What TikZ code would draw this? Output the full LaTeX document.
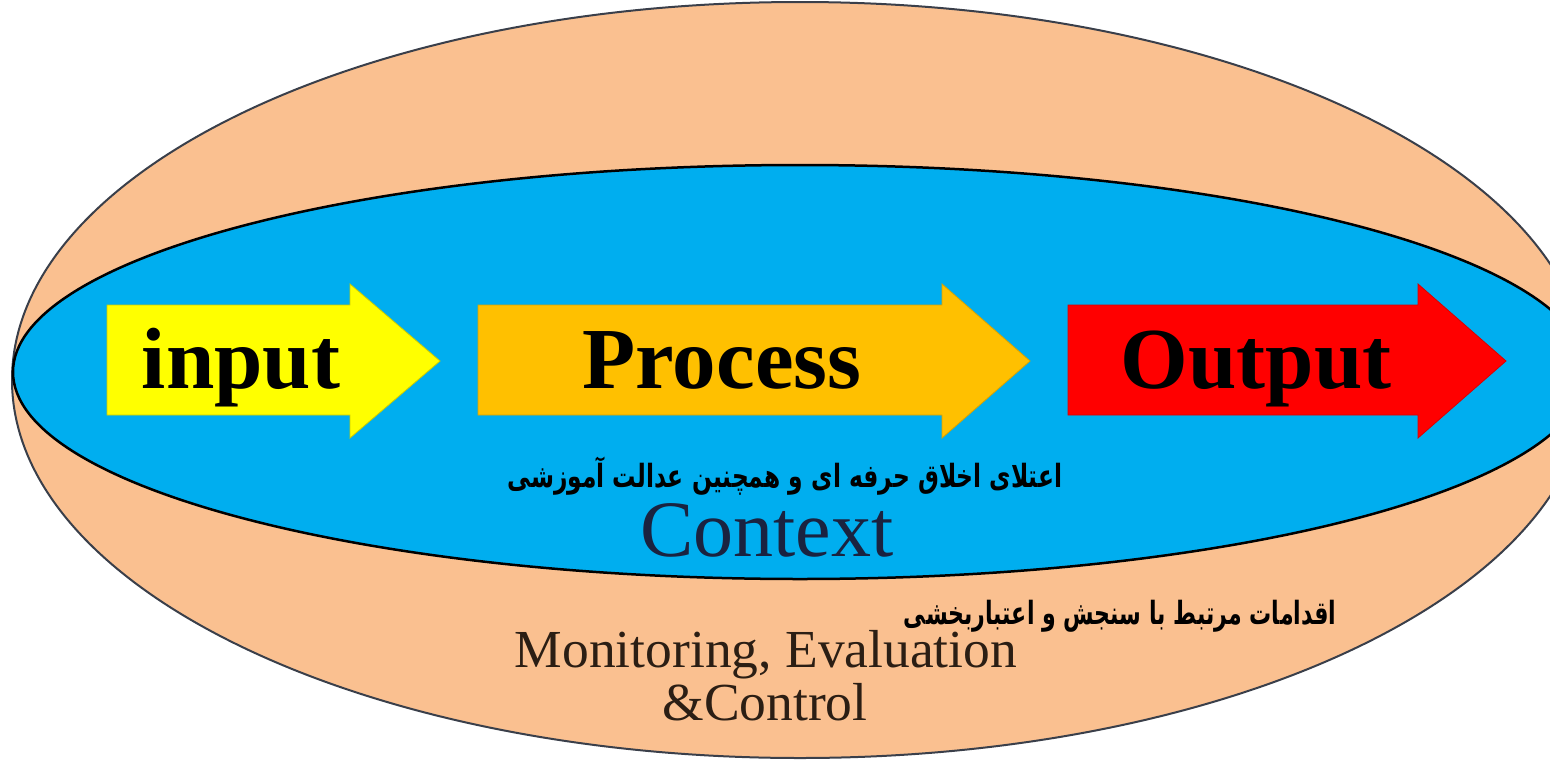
\documentclass[tikz,border=0pt]{standalone}
\usepackage{fontspec}
\setmainfont{Liberation Serif}
\newfontfamily\farsiwide[Script=Arabic, FakeStretch=0.73]{DejaVu Sans}
\newfontfamily\farsinarrow[Script=Arabic, FakeStretch=0.69]{DejaVu Sans}
\TeXXeTstate=1

\definecolor{peach}{HTML}{FAC090}
\definecolor{skyblue}{HTML}{00AEEF}
\definecolor{inyellow}{HTML}{FFFF00}
\definecolor{procamber}{HTML}{FFC000}
\definecolor{outred}{HTML}{FF0000}
\definecolor{ctxnavy}{HTML}{1A2340}
\definecolor{monbrown}{HTML}{2B1E14}
\definecolor{rimgrey}{HTML}{3A3F4A}

\tikzset{
  outerring/.style={fill=peach, draw=rimgrey, line width=2pt},
  innerring/.style={fill=skyblue, draw=black, line width=2.5pt},
  flowarrow/.style={line width=0.8pt, line join=miter},
  flowlabel/.style={anchor=base, inner sep=0pt, font=\fontsize{87}{90}\selectfont\bfseries},
  farsilabel/.style={anchor=base, inner sep=0pt},
  seriflabel/.style={anchor=base, inner sep=0pt},
}

\begin{document}
\begin{tikzpicture}[x=1pt, y=-1pt]
  \useasboundingbox (0,0) rectangle (1550,761);
  \clip (0,0) rectangle (1550,761);

  % monitoring ring and context ring
  \draw[outerring] (800,380) ellipse [x radius=788, y radius=378];
  \draw[innerring] (800,372) ellipse [x radius=787, y radius=207];

  % flow arrows
  \draw[flowarrow, fill=inyellow, draw=inyellow!80!black]
    (107,305) -- (350,305) -- (350,284) -- (440,361) -- (350,438) -- (350,415) -- (107,415) -- cycle;
  \draw[flowarrow, fill=procamber, draw=procamber!85!black]
    (478,305) -- (942,305) -- (942,284) -- (1030,361) -- (942,438) -- (942,415) -- (478,415) -- cycle;
  \draw[flowarrow, fill=outred, draw=outred!85!black]
    (1068,305) -- (1418,305) -- (1418,284) -- (1506,361) -- (1418,438) -- (1418,415) -- (1068,415) -- cycle;

  \node[flowlabel] (input)   at (241,388)  {input};
  \node[flowlabel] (process) at (722,388)  {Process};
  \node[flowlabel] (output)  at (1256,388) {Output};

  % context labels
  \node[farsilabel, font=\farsiwide\bfseries\fontsize{32}{36}\selectfont] (ethics) at (785,487)
    {\beginR اعتلای اخلاق حرفه ای و همچنین عدالت  آموزشی\endR};
  \node[seriflabel, text=ctxnavy, font=\fontsize{80}{84}\selectfont] (context) at (767,556) {Context};

  % monitoring labels
  \node[farsilabel, font=\farsinarrow\bfseries\fontsize{32}{36}\selectfont] (assess) at (1120,624)
    {\beginR اقدامات مرتبط با سنجش و اعتباربخشی\endR};
  \node[seriflabel, text=monbrown, font=\fontsize{53.5}{56}\selectfont] (monitor) at (766,667) {Monitoring, Evaluation};
  \node[seriflabel, text=monbrown, font=\fontsize{53.5}{56}\selectfont] (control) at (765,720) {\&Control};
\end{tikzpicture}
\end{document}
